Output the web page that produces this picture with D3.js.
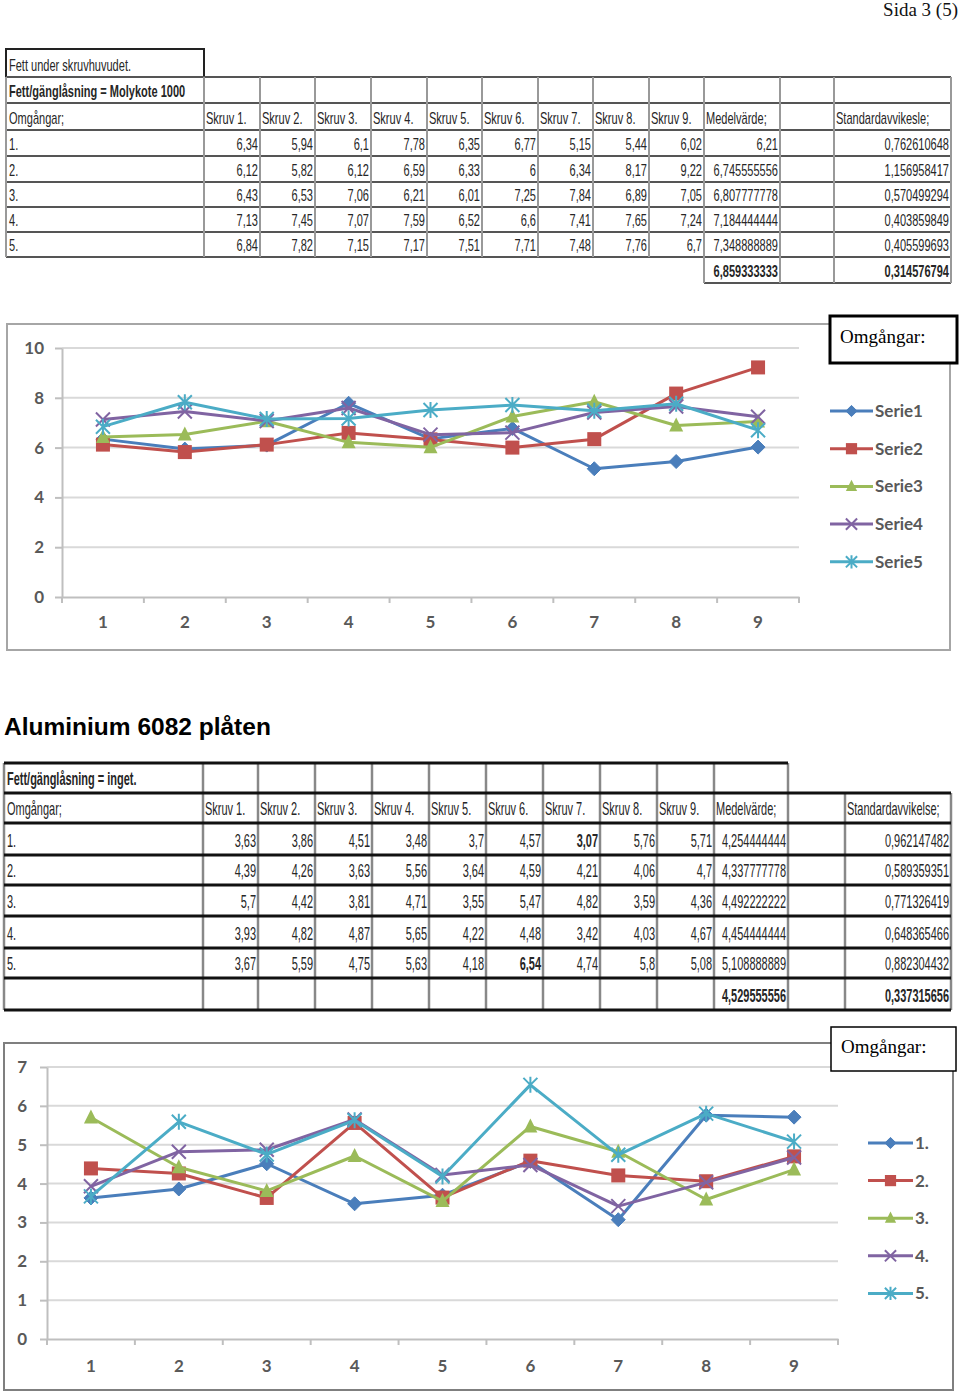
<!DOCTYPE html>
<html><head><meta charset="utf-8">
<script src="https://cdn.jsdelivr.net/npm/d3@7/dist/d3.min.js"></script>
<style>html,body{margin:0;padding:0;background:#fff;}svg{display:block;}</style>
</head><body>
<svg id="page" width="960" height="1393"></svg>
<script>
// ---------------- DATA ----------------
const screwLabels = ["Skruv 1.","Skruv 2.","Skruv 3.","Skruv 4.","Skruv 5.","Skruv 6.","Skruv 7.","Skruv 8.","Skruv 9."];
const roundLabels = ["1.","2.","3.","4.","5."];
const xCategories = ["1","2","3","4","5","6","7","8","9"];

// Molykote 1000 (rows = Omgångar, columns = Skruv 1..9)
const molyRound1 = [6.34,5.94,6.1,7.78,6.35,6.77,5.15,5.44,6.02];
const molyRound2 = [6.12,5.82,6.12,6.59,6.33,6,6.34,8.17,9.22];
const molyRound3 = [6.43,6.53,7.06,6.21,6.01,7.25,7.84,6.89,7.05];
const molyRound4 = [7.13,7.45,7.07,7.59,6.52,6.6,7.41,7.65,7.24];
const molyRound5 = [6.84,7.82,7.15,7.17,7.51,7.71,7.48,7.76,6.7];
const molyMeans = ["6,21","6,745555556","6,807777778","7,184444444","7,348888889"];
const molyStd = ["0,762610648","1,156958417","0,570499294","0,403859849","0,405599693"];
const molyTotals = ["6,859333333","0,314576794"];
const molySeriesNames = ["Serie1","Serie2","Serie3","Serie4","Serie5"];
const molyYTicks = [0,2,4,6,8,10];

// Aluminium 6082, no grease
const aluRound1 = [3.63,3.86,4.51,3.48,3.7,4.57,3.07,5.76,5.71];
const aluRound2 = [4.39,4.26,3.63,5.56,3.64,4.59,4.21,4.06,4.7];
const aluRound3 = [5.7,4.42,3.81,4.71,3.55,5.47,4.82,3.59,4.36];
const aluRound4 = [3.93,4.82,4.87,5.65,4.22,4.48,3.42,4.03,4.67];
const aluRound5 = [3.67,5.59,4.75,5.63,4.18,6.54,4.74,5.8,5.08];
const aluMeans = ["4,254444444","4,337777778","4,492222222","4,454444444","5,108888889"];
const aluStd = ["0,962147482","0,589359351","0,771326419","0,648365466","0,882304432"];
const aluTotals = ["4,529555556","0,337315656"];
const aluBoldCells = [[0,6],[4,5]];
const aluSeriesNames = ["1.","2.","3.","4.","5."];
const aluYTicks = [0,1,2,3,4,5,6,7];

const molyValues = [molyRound1,molyRound2,molyRound3,molyRound4,molyRound5];
const aluValues = [aluRound1,aluRound2,aluRound3,aluRound4,aluRound5];

const seriesColors = ["#4A7EBB","#C0504D","#9BBB59","#8064A2","#4BACC6"];
const markerTypes = ["diamond","square","triangle","x","star"];

// ---------------- PAGE ----------------
const svg = d3.select("#page");
const fmt = v => String(v).replace(".", ",");

svg.append("text").attr("x", 958).attr("y", 16).attr("text-anchor","end")
  .attr("font-family","'Liberation Serif','Times New Roman',serif").attr("font-size",19)
  .attr("fill","#111").text("Sida 3 (5)");

svg.append("text").attr("x", 4).attr("y", 735)
  .attr("font-family","'Liberation Sans',Arial,sans-serif").attr("font-weight","bold")
  .attr("font-size",24.5).attr("fill","#000").text("Aluminium 6082 plåten");

// ---------------- TABLES ----------------
function cellText(g, x, y, str, opts) {
  g.append("text")
    .attr("transform", `translate(${x},${y}) scale(${opts.sx},1)`)
    .attr("text-anchor", opts.anchor || "start")
    .attr("font-family","'Liberation Sans',Arial,sans-serif")
    .attr("font-size", opts.fs)
    .attr("font-weight", opts.bold ? "bold" : "normal")
    .attr("fill", "#262626")
    .text(str);
}

function hLine(g, x1, x2, y, c, w){ g.append("line").attr("x1",x1).attr("x2",x2).attr("y1",y).attr("y2",y).attr("stroke",c).attr("stroke-width",w); }
function vLine(g, x, y1, y2, c, w){ g.append("line").attr("x1",x).attr("x2",x).attr("y1",y1).attr("y2",y2).attr("stroke",c).attr("stroke-width",w); }

// Table 1
(function(){
  const g = svg.append("g");
  const cx = [6,204,260,315,371,427,482,538,593,649,704,780,834,951];
  const ry = [49,77,103,130,156,182,207,232,257,283];
  const opt = {fs:16, sx:0.69};
  const hc = "#555", vc = "#999";
  g.append("rect").attr("x",cx[0]).attr("y",ry[0]).attr("width",cx[1]-cx[0]).attr("height",ry[1]-ry[0])
    .attr("fill","none").attr("stroke","#222").attr("stroke-width",2);
  for (let r = 1; r <= 8; r++) hLine(g, cx[0], cx[13], ry[r], hc, 2);
  hLine(g, cx[10], cx[13], ry[9], hc, 2);
  cx.forEach((x,i) => {
    vLine(g, x, ry[1], ry[8], vc, 2);
    if (i >= 10) vLine(g, x, ry[8], ry[9], vc, 2);
  });
  cellText(g, cx[0]+3, ry[1]-6, "Fett under skruvhuvudet.", opt);
  cellText(g, cx[0]+3, ry[2]-6, "Fett/gänglåsning = Molykote 1000", {...opt, bold:true});
  cellText(g, cx[0]+3, ry[3]-6, "Omgångar;", opt);
  screwLabels.forEach((s,i) => cellText(g, cx[i+1]+2, ry[3]-6, s, opt));
  cellText(g, cx[10]+2, ry[3]-6, "Medelvärde;", opt);
  cellText(g, cx[12]+2, ry[3]-6, "Standardavvikesle;", opt);
  molyValues.forEach((row, r) => {
    const y = ry[4+r]-6;
    cellText(g, cx[0]+3, y, roundLabels[r], opt);
    row.forEach((v,c) => cellText(g, cx[c+2]-2, y, fmt(v), {...opt, anchor:"end"}));
    cellText(g, cx[11]-2, y, molyMeans[r], {...opt, anchor:"end"});
    cellText(g, cx[13]-2, y, molyStd[r], {...opt, anchor:"end"});
  });
  cellText(g, cx[11]-2, ry[9]-6, molyTotals[0], {...opt, anchor:"end", bold:true});
  cellText(g, cx[13]-2, ry[9]-6, molyTotals[1], {...opt, anchor:"end", bold:true});
})();

// Table 2
(function(){
  const g = svg.append("g");
  const cx = [4,203,258,315,372,429,486,543,600,657,714,788,845,951];
  const ry = [763,793,823,855,885,916,948,978,1010];
  const opt = {fs:18, sx:0.61};
  const hc = "#111", vc = "#888";
  cx.forEach((x,i) => {
    vLine(g, x, i >= 12 ? ry[1] : ry[0], ry[8], vc, 2.5);
  });
  hLine(g, cx[0], cx[11], ry[0], hc, 3);
  for (let r = 1; r <= 8; r++) hLine(g, cx[0], cx[13], ry[r], hc, 3);
  cellText(g, cx[0]+3, ry[1]-8, "Fett/gänglåsning = inget.", {...opt, bold:true});
  cellText(g, cx[0]+3, ry[2]-8, "Omgångar;", opt);
  screwLabels.forEach((s,i) => cellText(g, cx[i+1]+2, ry[2]-8, s, opt));
  cellText(g, cx[10]+2, ry[2]-8, "Medelvärde;", opt);
  cellText(g, cx[12]+2, ry[2]-8, "Standardavvikelse;", opt);
  aluValues.forEach((row, r) => {
    const y = ry[3+r]-8;
    cellText(g, cx[0]+3, y, roundLabels[r], opt);
    row.forEach((v,c) => {
      const bold = aluBoldCells.some(b => b[0]===r && b[1]===c);
      cellText(g, cx[c+2]-2, y, fmt(v), {...opt, anchor:"end", bold});
    });
    cellText(g, cx[11]-2, y, aluMeans[r], {...opt, anchor:"end"});
    cellText(g, cx[13]-2, y, aluStd[r], {...opt, anchor:"end"});
  });
  cellText(g, cx[11]-2, ry[8]-8, aluTotals[0], {...opt, anchor:"end", bold:true});
  cellText(g, cx[13]-2, ry[8]-8, aluTotals[1], {...opt, anchor:"end", bold:true});
})();

// ---------------- CHARTS ----------------
function drawMarker(g, type, x, y, color, s) {
  if (type === "diamond") {
    g.append("path").attr("d", `M${x},${y-s}L${x+s},${y}L${x},${y+s}L${x-s},${y}Z`).attr("fill",color).attr("stroke",color).attr("stroke-width",1);
  } else if (type === "square") {
    g.append("rect").attr("x",x-s).attr("y",y-s).attr("width",2*s).attr("height",2*s).attr("fill",color);
  } else if (type === "triangle") {
    g.append("path").attr("d", `M${x},${y-s-1}L${x+s},${y+s-1}L${x-s},${y+s-1}Z`).attr("fill",color);
  } else if (type === "x") {
    g.append("path").attr("d", `M${x-s},${y-s}L${x+s},${y+s}M${x-s},${y+s}L${x+s},${y-s}`).attr("stroke",color).attr("stroke-width",2).attr("fill","none");
  } else {
    g.append("path").attr("d", `M${x-s},${y-s}L${x+s},${y+s}M${x-s},${y+s}L${x+s},${y-s}M${x},${y-s-1}L${x},${y+s+1}`).attr("stroke",color).attr("stroke-width",2).attr("fill","none");
  }
}

function drawChart(cfg) {
  const g = svg.append("g");
  g.append("rect").attr("x",cfg.frame[0]).attr("y",cfg.frame[1]).attr("width",cfg.frame[2]-cfg.frame[0]).attr("height",cfg.frame[3]-cfg.frame[1])
    .attr("fill","#fff").attr("stroke",cfg.frameColor).attr("stroke-width",2);
  const x = d3.scaleBand().domain(xCategories).range([cfg.left, cfg.right]);
  const y = d3.scaleLinear().domain([0, d3.max(cfg.ticks)]).range([cfg.bottom, cfg.top]);
  const bw = x.bandwidth();
  cfg.ticks.filter(t => t > 0).forEach(t => hLine(g, cfg.left, cfg.right, y(t), "#d9d9d9", 2));
  const ya = g.append("g").attr("transform",`translate(${cfg.left},0)`)
    .call(d3.axisLeft(y).tickValues(cfg.ticks).tickFormat(d3.format("d")).tickSize(7).tickPadding(cfg.yPad).tickSizeOuter(0));
  ya.select(".domain").attr("stroke","#bfbfbf").attr("stroke-width",2);
  ya.selectAll(".tick line").attr("stroke","#bfbfbf").attr("stroke-width",2);
  ya.selectAll(".tick text").attr("font-family","Lato,'Open Sans',sans-serif").attr("font-weight","bold").attr("font-size",17).attr("fill","#595959");
  const xa = g.append("g").attr("transform",`translate(0,${cfg.bottom})`)
    .call(d3.axisBottom(x).tickSize(0).tickPadding(cfg.xPad).tickSizeOuter(0));
  xa.select(".domain").attr("stroke","#bfbfbf").attr("stroke-width",2);
  xa.selectAll(".tick text").attr("font-family","Lato,'Open Sans',sans-serif").attr("font-weight","bold").attr("font-size",17).attr("fill","#595959");
  xCategories.forEach(c => vLine(g, x(c), cfg.bottom, cfg.bottom+6, "#bfbfbf", 2));
  vLine(g, cfg.right, cfg.bottom, cfg.bottom+6, "#bfbfbf", 2);
  const line = d3.line().x((d,i) => x(xCategories[i]) + bw/2).y(d => y(d));
  cfg.values.forEach((row, si) => {
    const color = seriesColors[si];
    g.append("path").datum(row).attr("d", line).attr("fill","none").attr("stroke",color).attr("stroke-width",3).attr("stroke-linejoin","round");
    row.forEach((v,i) => drawMarker(g, markerTypes[si], x(xCategories[i]) + bw/2, y(v), color, cfg.ms));
  });
  cfg.names.forEach((n, i) => {
    const ly = cfg.legY + i*cfg.legStep;
    const color = seriesColors[i];
    hLine(g, cfg.legX, cfg.legX + cfg.legLen, ly, color, 3);
    drawMarker(g, markerTypes[i], cfg.legX + cfg.legLen/2, ly, color, cfg.ms*0.8);
    g.append("text").attr("x", cfg.legX + cfg.legLen + 2).attr("y", ly + 6)
      .attr("font-family","Lato,'Open Sans',sans-serif").attr("font-weight","bold").attr("font-size",17).attr("fill","#595959").text(n);
  });
  const b = cfg.box;
  g.append("rect").attr("x",b[0]).attr("y",b[1]).attr("width",b[2]-b[0]).attr("height",b[3]-b[1])
    .attr("fill","#fff").attr("stroke","#000").attr("stroke-width",cfg.boxStroke);
  g.append("text").attr("x", b[0]+10).attr("y", b[1]+cfg.boxTextDy)
    .attr("font-family","'Liberation Serif','Times New Roman',serif").attr("font-size",19).attr("fill","#000").text("Omgångar:");
}

drawChart({
  frame:[7,324,950,650], frameColor:"#a6a6a6",
  left:62, right:799, top:348, bottom:597, ticks:molyYTicks, yPad:11, xPad:19,
  values:molyValues, names:molySeriesNames, ms:7,
  legX:830, legLen:43, legY:411, legStep:37.7,
  box:[830,316,957,363], boxStroke:3, boxTextDy:27
});

drawChart({
  frame:[4,1043,953,1390], frameColor:"#7f7f7f",
  left:47, right:838, top:1067, bottom:1339, ticks:aluYTicks, yPad:13, xPad:21,
  values:aluValues, names:aluSeriesNames, ms:7,
  legX:868, legLen:45, legY:1143, legStep:37.6,
  box:[831,1027,956,1071], boxStroke:1.5, boxTextDy:26
});
</script>
</body></html>
